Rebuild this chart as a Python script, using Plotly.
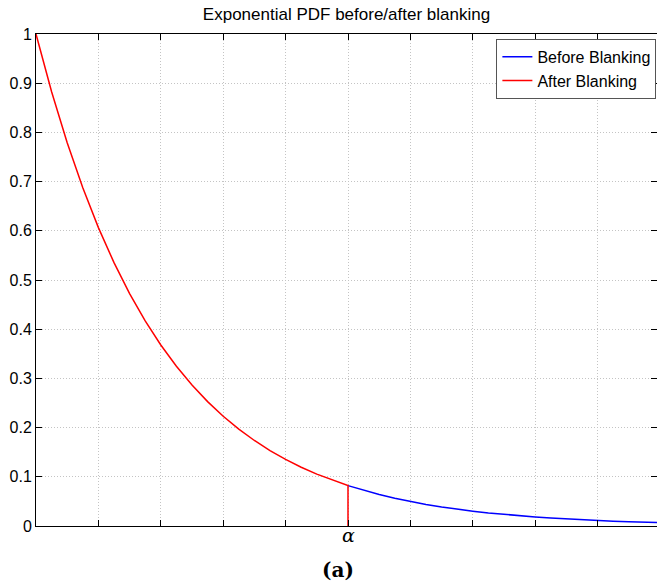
import plotly.graph_objects as go

# Values (exponential pdf)
x_vals = [0, 0.125, 0.25, 0.375, 0.5, 0.625, 0.75, 0.875, 1.0, 1.125, 1.25, 1.375, 1.5,
          1.625, 1.75, 1.875, 2.0, 2.125, 2.25, 2.375, 2.5, 2.625, 2.75, 2.875, 3.0,
          3.125, 3.25, 3.375, 3.5, 3.625, 3.75, 3.875, 4.0, 4.125, 4.25, 4.375, 4.5,
          4.625, 4.75, 4.875, 5.0]
before_y = [1.0, 0.8825, 0.7788, 0.6873, 0.6065, 0.5353, 0.4724, 0.4169, 0.3679, 0.3247,
            0.2865, 0.2528, 0.2231, 0.1969, 0.1738, 0.1534, 0.1353, 0.1194, 0.1054, 0.0930,
            0.0821, 0.0724, 0.0639, 0.0564, 0.0498, 0.0439, 0.0388, 0.0342, 0.0302, 0.0266,
            0.0235, 0.0207, 0.0183, 0.0162, 0.0143, 0.0126, 0.0111, 0.0098, 0.0087, 0.0076,
            0.0067]
alpha = 2.5
blue_x = [x for x in x_vals if x >= alpha]
blue_y = [y for x, y in zip(x_vals, before_y) if x >= alpha]
after_x = [x for x in x_vals if x <= alpha] + [alpha]
after_y = [y for x, y in zip(x_vals, before_y) if x <= alpha] + [0]

x_ticks = [0, 0.5, 1.0, 1.5, 2.0, 2.5, 3.0, 3.5, 4.0, 4.5, 5.0]
y_ticks = [0, 0.1, 0.2, 0.3, 0.4, 0.5, 0.6, 0.7, 0.8, 0.9, 1.0]
y_tick_text = ["0", "0.1", "0.2", "0.3", "0.4", "0.5", "0.6", "0.7", "0.8", "0.9", "1"]

title_text = "Exponential PDF before/after blanking"
sans = "Liberation Sans, Arial, sans-serif"
serif = "DejaVu Serif, Liberation Serif, serif"

fig = go.Figure()
fig.add_trace(go.Scatter(x=blue_x, y=blue_y, mode="lines", name="Before Blanking",
                         line=dict(color="#0000ff", width=1.5)))
fig.add_trace(go.Scatter(x=after_x, y=after_y, mode="lines", name="After Blanking",
                         line=dict(color="#ff0000", width=1.5)))

axis_common = dict(showline=True, linecolor="black", linewidth=1, mirror="ticks",
                   ticks="inside", ticklen=6, tickcolor="black",
                   showgrid=True, gridcolor="#c4c4c4", griddash="1px,2px", gridwidth=1,
                   zeroline=False)

fig.update_layout(
    width=657, height=583,
    margin=dict(l=36, r=0, t=34, b=57),
    paper_bgcolor="white", plot_bgcolor="white",
    title=dict(text=title_text, x=(36 + 657) / 2 / 657, xanchor="center",
               y=1 - 14 / 583, yanchor="middle",
               font=dict(family=sans, size=17, color="black")),
    xaxis=dict(range=[0, 4.976], tickvals=x_ticks, ticktext=[""] * len(x_ticks),
               **axis_common),
    yaxis=dict(range=[0, 1], tickvals=y_ticks, ticktext=y_tick_text,
               tickfont=dict(family=sans, size=16, color="black"), **axis_common),
    legend=dict(x=0.999, xanchor="right", y=0.99, yanchor="top",
                bgcolor="white", bordercolor="#555555", borderwidth=1,
                font=dict(family=sans, size=16, color="black"),
                tracegroupgap=0, itemwidth=30),
    showlegend=True,
    annotations=[
        dict(text="<i>α</i>", x=alpha, xref="x", y=-(535 - 525.7) / 492, yref="paper",
             xanchor="center", yanchor="middle", showarrow=False,
             font=dict(family=serif, size=19, color="black")),
        dict(text="<b>(a)</b>", x=(338 - 36) / 621, xref="paper",
             y=-(570 - 525.7) / 492, yref="paper", xanchor="center", yanchor="middle",
             showarrow=False, font=dict(family=serif, size=20, color="black")),
    ],
)

fig.write_html("out.html")
